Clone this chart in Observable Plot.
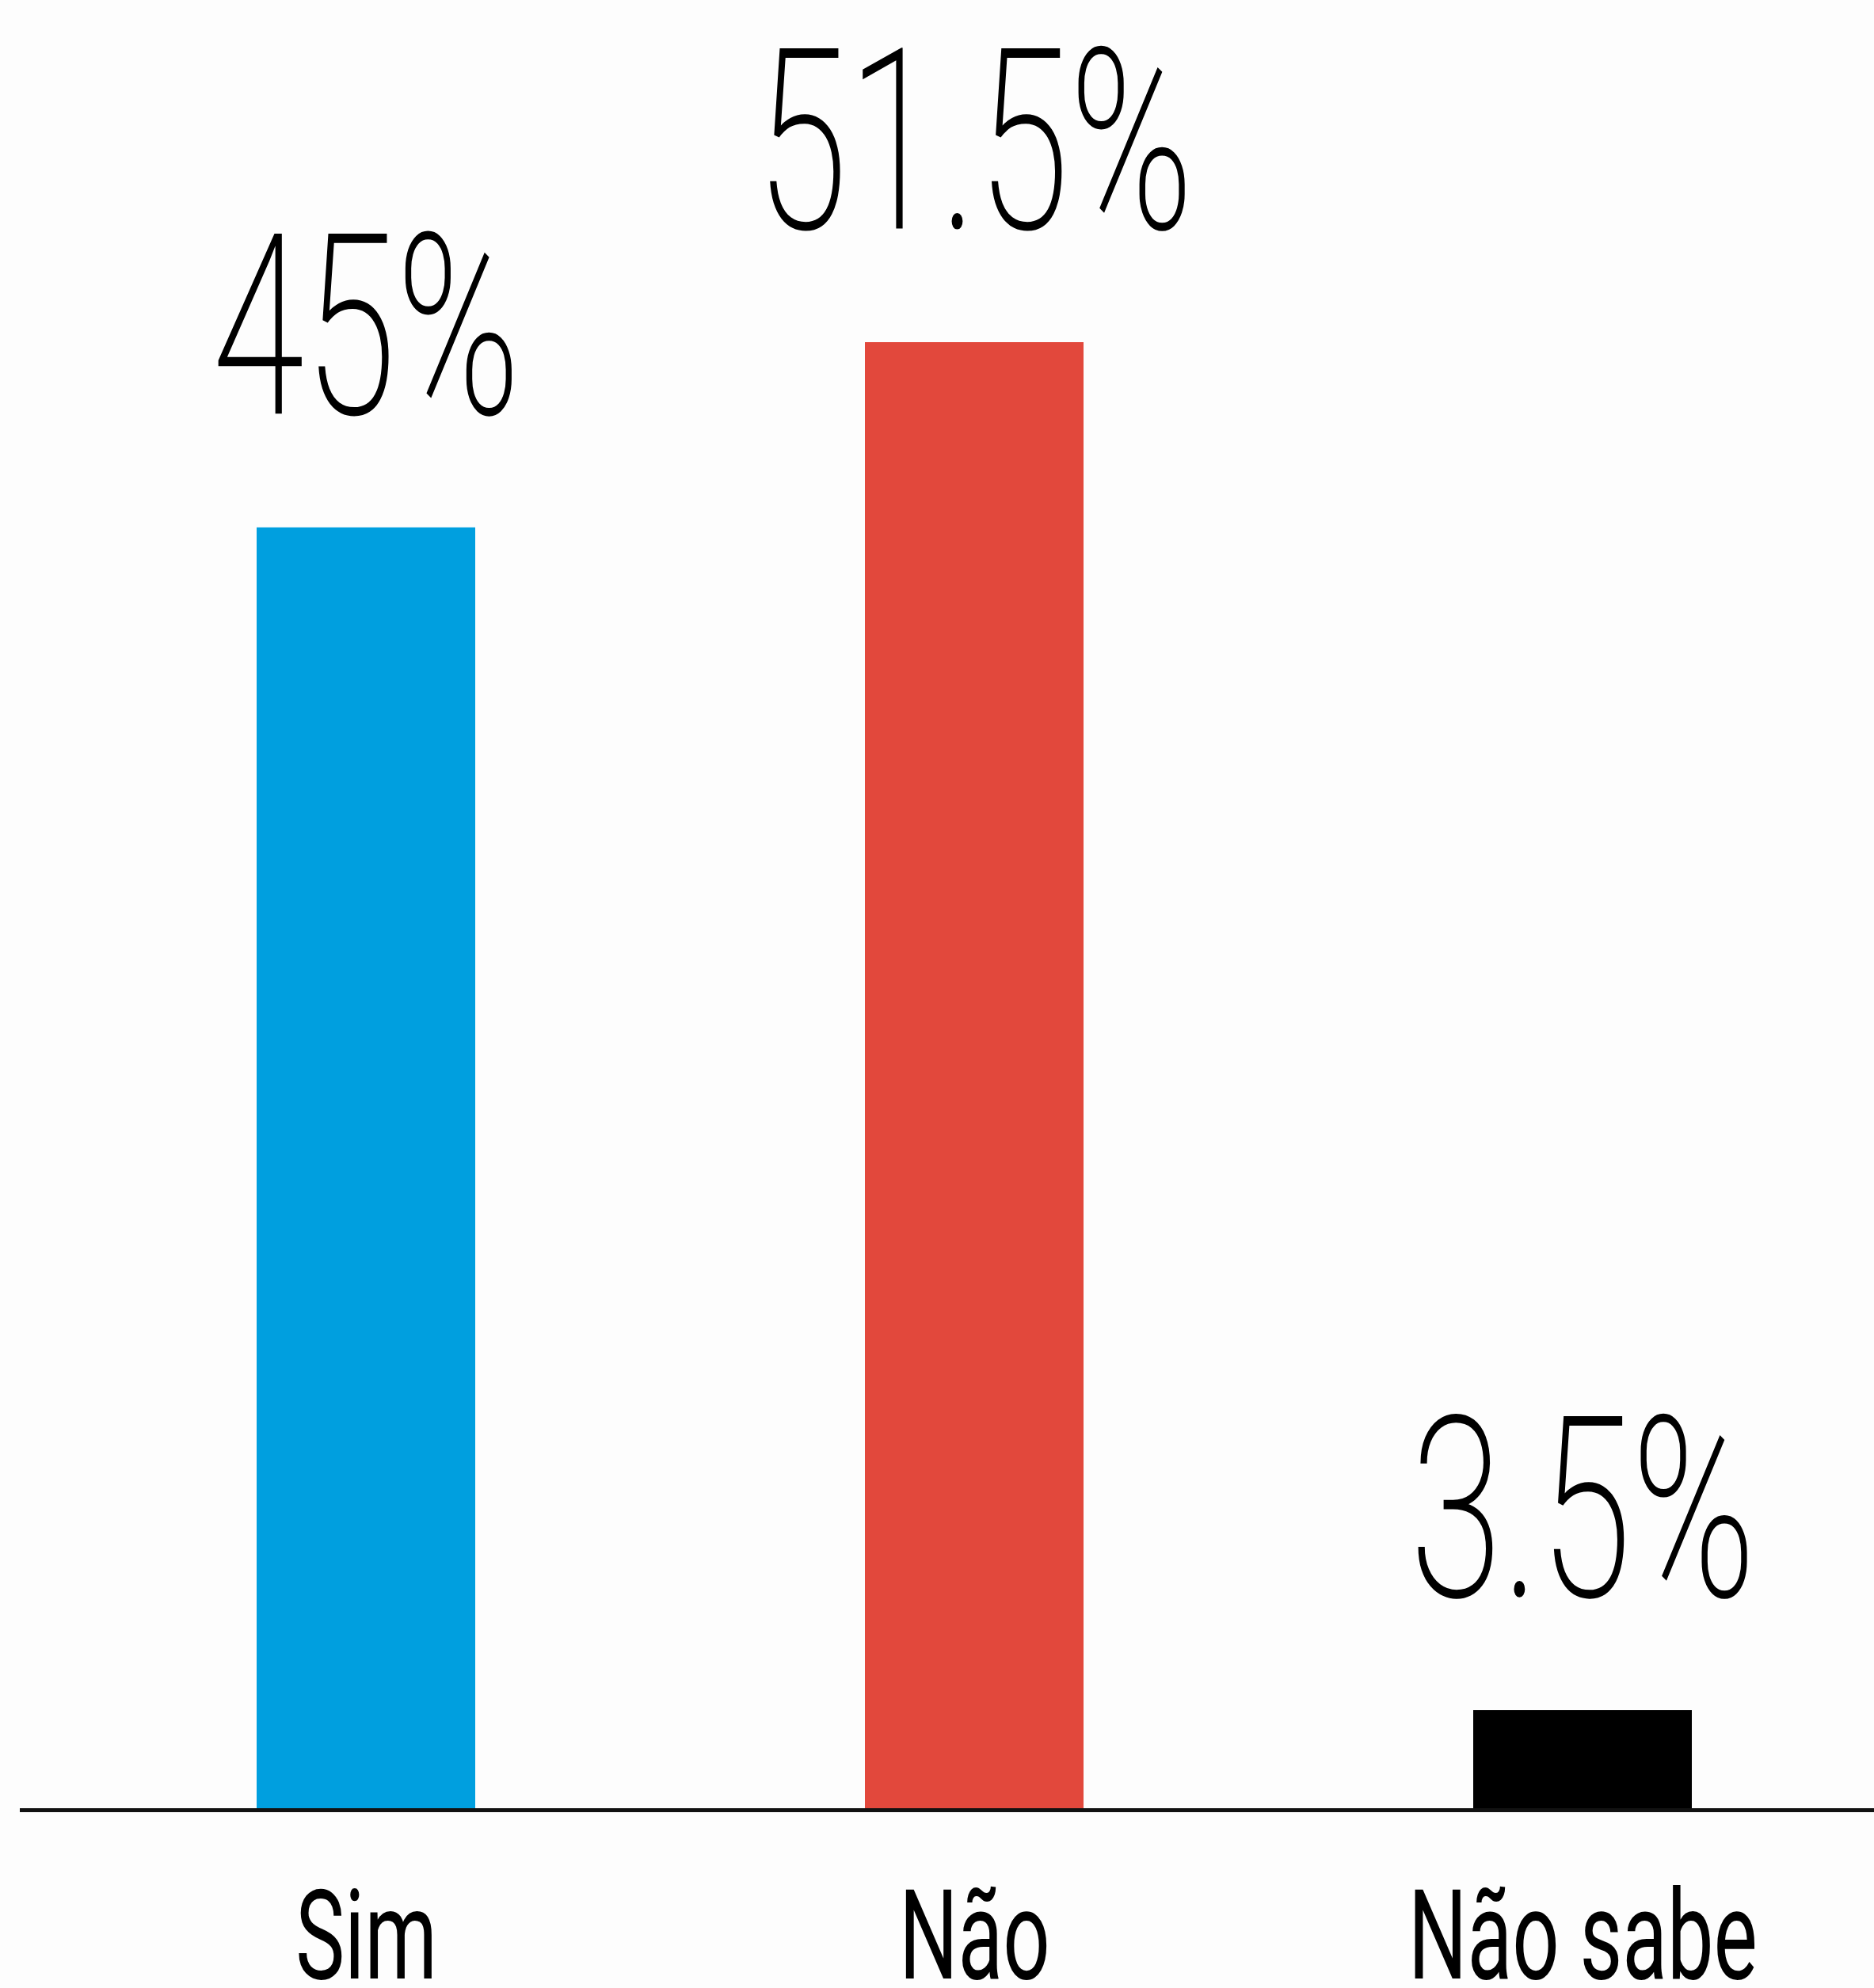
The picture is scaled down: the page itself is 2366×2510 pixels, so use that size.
<!DOCTYPE html>
<html><head><meta charset="utf-8">
<script src="https://cdn.jsdelivr.net/npm/d3@7"></script>
<script src="https://cdn.jsdelivr.net/npm/@observablehq/plot@0.6"></script>
<style>html,body{margin:0;padding:0;background:#fdfdfd;} svg{display:block}</style>
</head><body><div id="chart"></div>
<script>
const categories = ["Sim", "Não", "Não sabe"];
const values = [45, 51.5, 3.5];
const valueLabels = ["45%", "51.5%", "3.5%"];
const colors = ["#009fdf", "#e2483c", "#000000"];

const data = categories.map((c, i) => ({category: c, value: values[i], label: valueLabels[i]}));

const chart = Plot.plot({
  width: 2366,
  height: 2510,
  marginLeft: 25,
  marginRight: 0,
  marginTop: 0,
  marginBottom: 225,
  style: {background: "#fdfdfd", fontFamily: "Roboto, sans-serif", color: "#000"},
  x: {domain: categories, range: [323, 2137], paddingInner: 0.64, paddingOuter: 0, label: null, axis: null},
  y: {domain: [0, 51.5], range: [2285, 432], axis: null},
  color: {domain: categories, range: colors},
  marks: [
    Plot.barY(data, {x: "category", y: "value", fill: "category"}),
    Plot.ruleY([0], {stroke: "#111", strokeWidth: 5}),
    Plot.text(data, {x: "category", y: "value", text: "label", dy: -144, lineAnchor: "bottom",
      fontSize: 320, fontWeight: 200, fill: "#000", className: "vlabel"}),
    Plot.axisX({tickSize: 0, tickPadding: 100, fontSize: 158, fontWeight: 400, fill: "#000", label: null})
  ]
});
document.getElementById("chart").appendChild(chart);

// condense all text horizontally to mimic a condensed typeface
const sx = 0.66;
chart.querySelectorAll("text").forEach(el => {
  const t = el.getAttribute("transform");
  if (t) {
    el.setAttribute("transform", t + ` scale(${sx},1)`);
  } else {
    const x = +(el.getAttribute("x") || 0);
    const y = +(el.getAttribute("y") || 0);
    el.setAttribute("x", 0); el.setAttribute("y", 0);
    el.setAttribute("transform", `translate(${x},${y}) scale(${sx},1)`);
  }
});
</script>
</body></html>
